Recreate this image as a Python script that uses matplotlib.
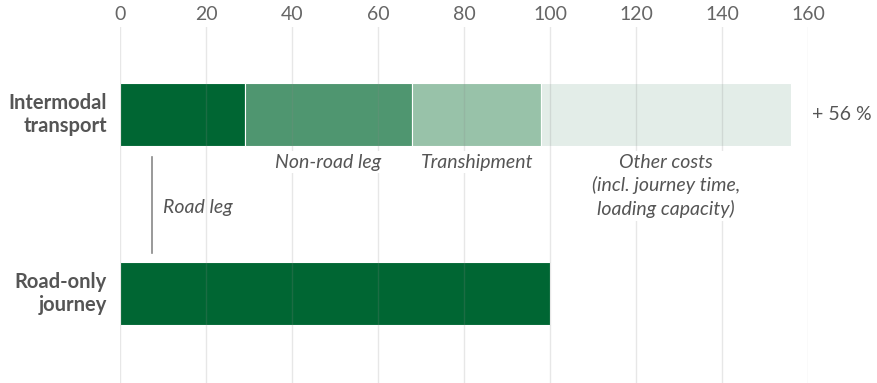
import matplotlib.pyplot as plt

plt.rcParams['font.family'] = ['Lato', 'DejaVu Sans']

# Cost comparison (road-only journey = 100)
categories = ["Intermodal\ntransport", "Road-only\njourney"]
segment_names = ["Road leg", "Non-road leg", "Transhipment",
                 "Other costs\n(incl. journey time,\nloading capacity)"]
intermodal_values = [29, 39, 30, 58]
road_only_value = 100
ticks = [0, 20, 40, 60, 80, 100, 120, 140, 160]

seg_colors = ["#006633", "#4f9670", "#98c2a9", "#e3ede8"]
text_gray = "#555555"

fig = plt.figure(figsize=(8.77, 3.83), dpi=100)
ax = fig.add_axes([120 / 877, 0, 688 / 877, 356 / 383])
ax.set_xlim(0, 160)
ax.set_ylim(1.5, -0.489)

bar_h = 0.352
left = 0
for v, c in zip(intermodal_values, seg_colors):
    ax.barh(0, v, left=left, height=bar_h, color=c, edgecolor="white",
            linewidth=0.8, zorder=1)
    left += v
ax.barh(1, road_only_value, height=bar_h, color=seg_colors[0],
        edgecolor="white", linewidth=0.8, zorder=1)

total = sum(intermodal_values)
ax.text(total + 5, 0, f"+ {total - road_only_value} %", ha="left", va="center",
        fontsize=14, color=text_gray)

# segment labels below the intermodal bar
lab_y = 0.218
starts = [0]
for v in intermodal_values[:-1]:
    starts.append(starts[-1] + v)
for i in (1, 2, 3):
    cx = starts[i] + intermodal_values[i] / 2
    ax.text(cx, lab_y, segment_names[i], ha="center", va="top",
            fontsize=14, style="italic", color=text_gray,
            linespacing=1.38, zorder=4,
            bbox=dict(boxstyle="square,pad=0.12", fc="white", ec="none"))

# road leg callout
ax.plot([7.5, 7.5], [0.237, 0.774], color="#888888", lw=1.2, zorder=4)
ax.text(10, 0.522, segment_names[0], ha="left", va="center",
        fontsize=14, style="italic", color=text_gray, zorder=4)

# category labels
for y, name in enumerate(categories):
    ax.text(-3.0, y, name, ha="right", va="center", fontsize=14.5,
            fontweight="bold", color=text_gray, linespacing=1.2)

ax.xaxis.tick_top()
ax.set_xticks(ticks)
ax.set_xticklabels([str(t) for t in ticks])
ax.tick_params(axis="x", length=0, pad=3, labelsize=14, labelcolor="#666666")
ax.set_yticks([])
ax.grid(axis="x", color="#888888", alpha=0.2, lw=1)
ax.set_axisbelow(False)
for s in ax.spines.values():
    s.set_visible(False)

fig.savefig("out.png", dpi=100)
